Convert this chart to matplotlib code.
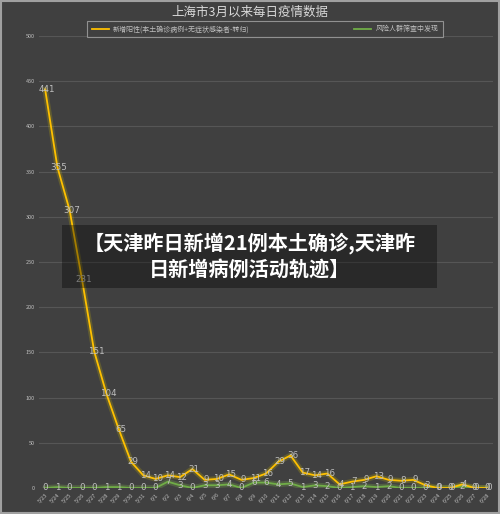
import matplotlib
matplotlib.use('Agg')
import matplotlib.pyplot as plt
from matplotlib.patches import Rectangle

plt.rcParams['font.family'] = ['Noto Sans CJK SC', 'DejaVu Sans']

# dates 5/23 .. 6/28
dates = ['5/23', '5/24', '5/25', '5/26', '5/27', '5/28', '5/29', '5/30', '5/31',
         '6/1', '6/2', '6/3', '6/4', '6/5', '6/6', '6/7', '6/8', '6/9', '6/10',
         '6/11', '6/12', '6/13', '6/14', '6/15', '6/16', '6/17', '6/18', '6/19',
         '6/20', '6/21', '6/22', '6/23', '6/24', '6/25', '6/26', '6/27', '6/28']
# new positives (local confirmed + asymptomatic - converted)
new_pos = [441, 355, 307, 231, 151, 104, 65, 29, 14, 10, 14, 12, 21, 9, 10, 15,
           9, 11, 16, 29, 36, 17, 14, 16, 4, 7, 9, 13, 9, 8, 9, 3, 0, 0, 4, 0, 0]
# found in risk-group screening
screening = [0, 1, 0, 0, 0, 1, 1, 0, 0, 0, 7, 3, 0, 3, 3, 4, 0, 6, 6, 4, 5, 1,
             3, 2, 0, 1, 2, 1, 2, 0, 0, 0, 0, 0, 2, 0, 0]
yticks = [0, 50, 100, 150, 200, 250, 300, 350, 400, 450, 500]

title = '上海市3月以来每日疫情数据'
legend_labels = ['新增阳性(本土确诊病例+无症状感染者-转归)', '风险人群筛查中发现']
banner = '【天津昨日新增21例本土确诊,天津昨\n日新增病例活动轨迹】'

bg = '#404040'
yellow = '#ffc000'
green = '#70ad47'
txt = '#bfbfbf'

fig = plt.figure(figsize=(5, 5.14), dpi=100, facecolor=bg)
ax = fig.add_axes([0.078, 0.0506, 0.908, 0.8794], facecolor=bg)

x = list(range(len(dates)))

# glow underneath
ax.plot(x, new_pos, color='#d8c000', lw=4, alpha=0.22, solid_capstyle='round', zorder=2)
ax.plot(x, screening, color='#8fcf4f', lw=4, alpha=0.22, solid_capstyle='round', zorder=2)
l1, = ax.plot(x, new_pos, color=yellow, lw=1.3, zorder=4, label=legend_labels[0])
l2, = ax.plot(x, screening, color=green, lw=1.3, zorder=3, label=legend_labels[1])

for xi, v in zip(x, new_pos):
    ax.text(xi + 0.15, v, str(v), color=txt, fontsize=6.3, ha='center', va='center',
            zorder=5, family=['DejaVu Sans'])
for xi, v in zip(x, screening):
    ax.text(xi, v, str(v), color=txt, fontsize=6.3, ha='center', va='center',
            zorder=5, family=['DejaVu Sans'])

ax.set_xlim(-0.5, len(dates) - 0.5)
ax.set_ylim(0, 500)
ax.set_yticks(yticks)
ax.set_yticklabels([str(t) for t in yticks], fontsize=4, color=txt)
ax.set_xticks(x)
ax.set_xticklabels(dates, fontsize=4, color=txt, rotation=45, ha='right',
                   rotation_mode='anchor')
ax.tick_params(length=0, pad=3)
ax.grid(axis='y', color='#565656', lw=0.8)
ax.set_axisbelow(True)
for s in ax.spines.values():
    s.set_visible(False)

fig.text(0.5, 0.975, title, ha='center', va='center', color='#d9d9d9',
         fontsize=9)

leg = fig.legend(handles=[l1, l2], loc='center', bbox_to_anchor=(0.53, 0.943),
                 ncol=2, fontsize=5, frameon=True, fancybox=False,
                 handlelength=2.5, columnspacing=15, borderpad=0.6,
                 borderaxespad=0, handletextpad=0.6)
leg.get_frame().set_facecolor(bg)
leg.get_frame().set_edgecolor('#a6a6a6')
leg.get_frame().set_linewidth(0.8)
for t in leg.get_texts():
    t.set_color(txt)

# dark banner over the chart
fig.patches.append(Rectangle((0.124, 0.44), 0.75, 0.123, transform=fig.transFigure,
                             facecolor='black', alpha=0.35, zorder=10))
fig.text(0.5, 0.502, banner, ha='center', va='center', color='white', fontsize=14.5,
         fontweight='bold', linespacing=1.25, zorder=11)

# thin light frame
fig.patches.append(Rectangle((0.002, 0.002), 0.996, 0.996, transform=fig.transFigure,
                             facecolor='none', edgecolor='#a0a0a0', lw=1.5, zorder=12))

fig.savefig('out.png', dpi=100, facecolor=bg)
